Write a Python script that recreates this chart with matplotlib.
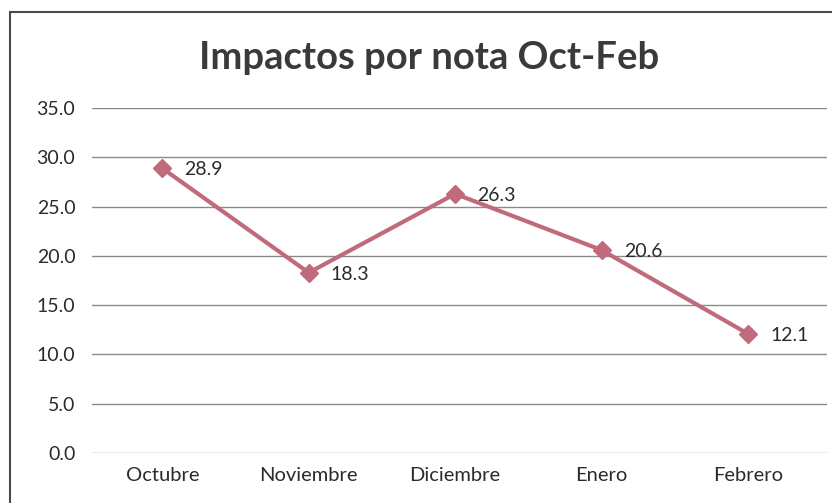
import matplotlib.pyplot as plt
from matplotlib.patches import Rectangle

plt.rcParams['font.family'] = ['Lato', 'DejaVu Sans']

meses = ['Octubre', 'Noviembre', 'Diciembre', 'Enero', 'Febrero']
impactos = [28.9, 18.3, 26.3, 20.6, 12.1]
yticks = [0, 5, 10, 15, 20, 25, 30, 35]

color_linea = '#C06A7B'

fig = plt.figure(figsize=(8.32, 5.03), dpi=100)
ax = fig.add_axes([0.1106, 0.0994, 0.8834, 0.6856])

x = range(len(meses))
ax.plot(x, impactos, color=color_linea, lw=3, marker='D', ms=9.5, zorder=3)

# etiquetas de datos a la derecha de cada punto
for i, v in zip(x, impactos):
    ax.annotate(f'{v:.1f}', xy=(i, v), xytext=(16, -1), textcoords='offset points',
                fontsize=14, color='#2b2b2b', va='center', ha='left')

ax.set_xlim(-0.48, 4.54)
ax.set_ylim(0, 35)
ax.set_yticks(yticks)
ax.set_yticklabels([f'{t:.1f}' for t in yticks], fontsize=14, color='#2b2b2b')
ax.set_xticks(list(x))
ax.set_xticklabels(meses, fontsize=14.5, color='#2b2b2b')
ax.tick_params(length=0, pad=12)
ax.tick_params(axis='x', pad=10)
ax.grid(axis='y', color='#8a8a8a', lw=1)
ax.set_axisbelow(True)
for s in ax.spines.values():
    s.set_visible(False)

fig.text(0.516, 0.885, 'Impactos por nota Oct-Feb', ha='center', va='center',
         fontsize=27.5, fontweight='bold', color='#3a3a3a')

# borde del grafico
borde = Rectangle((10 / 832, -0.05), 1.1, 1.05 - 12 / 503, transform=fig.transFigure,
                  fill=False, edgecolor='#4a4a4a', lw=1.5, clip_on=False)
fig.patches.append(borde)

fig.savefig('out.png', dpi=100)
